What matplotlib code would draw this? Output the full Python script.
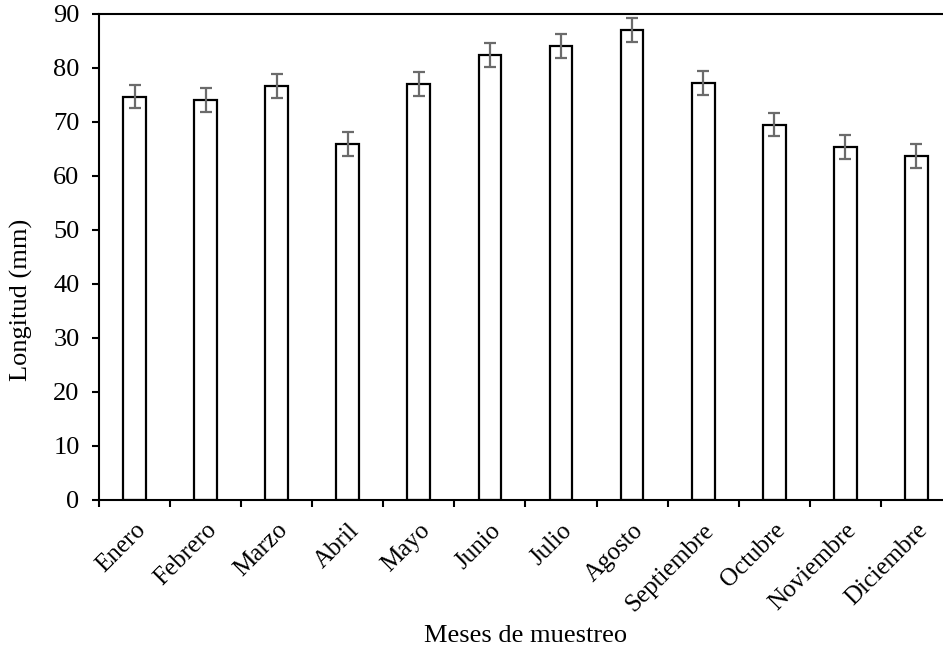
import numpy as np
import matplotlib
matplotlib.use("Agg")
import matplotlib.pyplot as plt

meses = ["Enero", "Febrero", "Marzo", "Abril", "Mayo", "Junio", "Julio",
         "Agosto", "Septiembre", "Octubre", "Noviembre", "Diciembre"]
longitud = [74.7, 74.1, 76.7, 65.9, 77.0, 82.4, 84.1, 87.0, 77.2, 69.5, 65.4, 63.7]
error = [2.2, 2.2, 2.2, 2.2, 2.2, 2.2, 2.2, 2.2, 2.2, 2.2, 2.2, 2.2]

plt.rcParams["font.family"] = ["Liberation Serif", "DejaVu Serif"]

fig = plt.figure(figsize=(9.43, 6.47), dpi=100)
ax = fig.add_axes([0.105, 0.2277, 0.9045, 0.7507])

x = np.arange(len(meses))
ax.bar(x, longitud, width=0.32, color="white", edgecolor="black", linewidth=1.6,
       yerr=error, error_kw=dict(ecolor="#6b6b6b", elinewidth=1.6, capsize=4, capthick=1.6))

ax.set_xlim(-0.5, len(meses) - 0.5)
ax.set_ylim(0, 90)
ax.set_yticks(range(0, 91, 10))

# ticks at category boundaries, labels at centers
ax.set_xticks(np.arange(-0.5, len(meses), 1))
ax.set_xticklabels([])
ax.set_xticks(x, minor=True)
ax.set_xticklabels(meses, minor=True, rotation=45, ha="right", rotation_mode="anchor", fontsize=18)
ax.tick_params(axis="x", which="minor", length=0, pad=14)
ax.tick_params(axis="x", which="major", length=5, width=1.5, direction="out")
ax.tick_params(axis="y", length=5, width=1.5, direction="out", labelsize=19, pad=9)

for s in ["left", "bottom", "top"]:
    ax.spines[s].set_linewidth(1.5)
ax.spines["right"].set_visible(False)

ax.set_ylabel("Longitud (mm)", fontsize=19)
ax.yaxis.set_label_coords(-0.077, 0.411)
ax.set_xlabel("Meses de muestreo", fontsize=19)
ax.xaxis.set_label_coords(0.5, -0.258)

fig.savefig("out.png", dpi=100)
